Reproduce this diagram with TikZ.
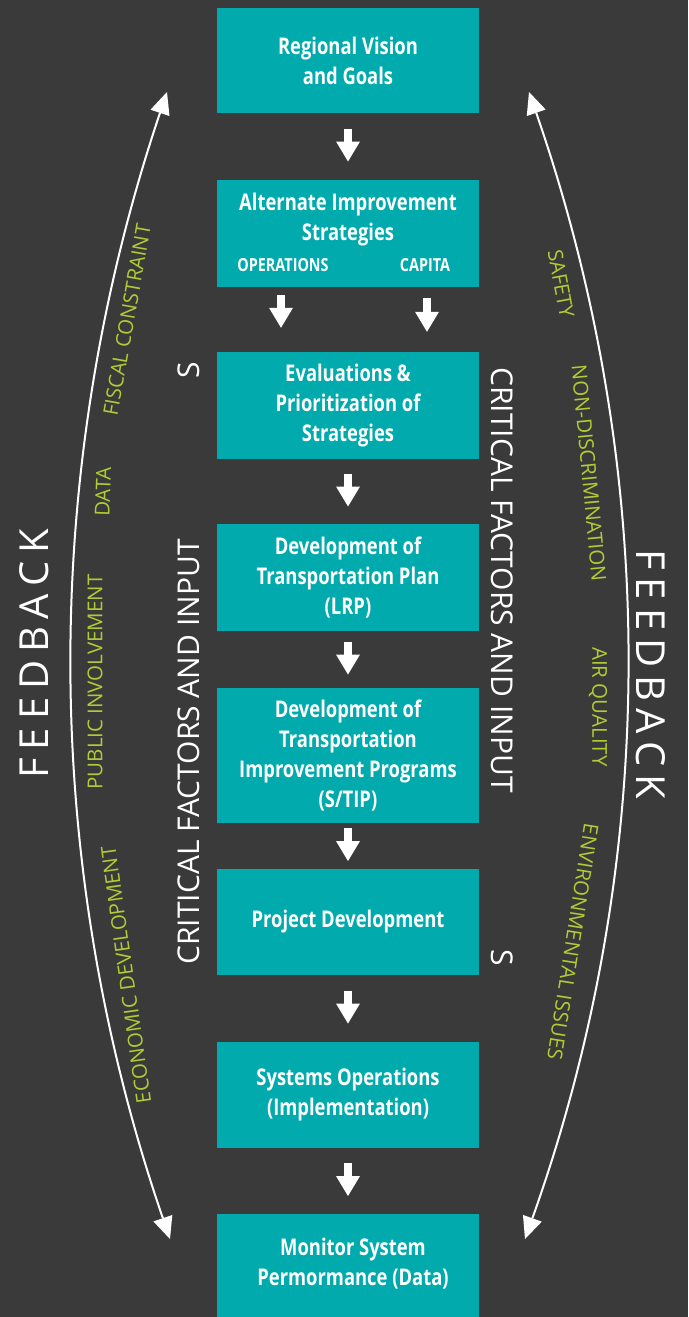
\documentclass[tikz,border=0pt]{standalone}
\usepackage{fontspec}
\setmainfont{Open Sans}
\newfontfamily\boxfont[FakeStretch=0.8]{Open Sans}
\newfontfamily\fbfont[LetterSpace=20]{Open Sans}
\usetikzlibrary{arrows.meta,calc}
\definecolor{bgcol}{RGB}{58,58,58}
\definecolor{tealbox}{RGB}{0,170,173}
\definecolor{lblgreen}{RGB}{176,204,52}
\begin{document}
\begin{tikzpicture}[x=1pt,y=-1pt,
  stepbox/.style={fill=tealbox, minimum width=262pt, inner sep=0pt, text=white,
    font=\boxfont\bfseries\fontsize{23}{30}\selectfont, align=center},
  subtext/.style={text=white, font=\boxfont\bfseries\fontsize{18}{20}\selectfont, inner sep=0pt},
  blk/.style={draw=white, line width=8pt, -{Triangle[length=20pt,width=24pt,line width=0pt]}},
  fback/.style={draw=white, line width=2pt,
    {Triangle[length=22pt,width=20pt,line width=0pt]}-{Triangle[length=22pt,width=20pt,line width=0pt]}},
  crit/.style={text=white, font=\fontsize{30}{34}\selectfont, inner sep=0pt},
  fb/.style={text=white, font=\fbfont\fontsize{40}{44}\selectfont, inner sep=0pt},
  lbl/.style={text=lblgreen, font=\fontsize{20.5}{24}\selectfont, inner sep=0pt}
]
\fill[bgcol] (0,0) rectangle (688,1317);
\useasboundingbox (0,0) rectangle (688,1317);

% boxes
\node[stepbox, minimum height=105pt] (b1) at (348,60.5) {Regional Vision\\and Goals};
\node[stepbox, minimum height=107pt] (b2) at (348,233.5) {};
\node[stepbox, fill=none, minimum width=0pt] (b2t) at (348,220) {Alternate Improvement\\Strategies};
\node[subtext] (ops) at (283,265) {OPERATIONS};
\node[subtext] (cap) at (425,265) {CAPITA};
\node[stepbox, minimum height=107pt] (b3) at (348,405.5) {Evaluations \&\\Prioritization of\\Strategies};
\node[stepbox, minimum height=107pt] (b4) at (348,577.5) {Development of\\Transportation Plan\\(LRP)};
\node[stepbox, minimum height=135pt] (b5) at (348,755.5) {Development of\\Transportation\\Improvement Programs\\(S/TIP)};
\node[stepbox, minimum height=106pt] (b6) at (348,922) {Project Development};
\node[stepbox, minimum height=106pt] (b7) at (348,1095) {Systems Operations\\(Implementation)};
\node[stepbox, minimum height=103pt] (b8) at (348,1265.5) {};
\node[stepbox, fill=none, minimum width=0pt] (b8t) at (353,1264) {Monitor System\\Permormance (Data)};

% block arrows
\foreach \a/\b in {b1/b2,b3/b4,b4/b5,b5/b6,b6/b7,b7/b8}
  \draw[blk] ($(\a.south)!.5!(\b.north)+(0,-18)$) -- ($(\a.south)!.5!(\b.north)+(0,15)$);
\draw[blk] ([xshift=-67pt,yshift=-8pt]b2.south) -- ([xshift=-67pt,yshift=24pt]b3.north);
\draw[blk] ([xshift=79pt,yshift=-11pt]b2.south) -- ([xshift=79pt,yshift=20pt]b3.north);

% feedback arcs
\coordinate (lt) at (167,92);
\coordinate (lb) at (170,1239);
\coordinate (rt) at (529,92);
\coordinate (rb) at (525,1239);
\draw[fback] (lt) .. controls (40,470) and (40,860) .. (lb);
\draw[fback] (rt) .. controls (660,470) and (660,860) .. (rb);

% critical factors texts
\node[crit, rotate=90] (critL) at (189,752) {CRITICAL FACTORS AND INPUT};
\node[crit, rotate=90] (sL) at (189,370) {S};
\node[crit, rotate=-90] (critR) at (502,580) {CRITICAL FACTORS AND INPUT};
\node[crit, rotate=-90] (sR) at (502,958) {S};

% feedback texts
\node[fb, rotate=90] (fbL) at (34,654) {FEEDBACK};
\node[fb, rotate=-90] (fbR) at (651,674) {FEEDBACK};

% green labels
\node[lbl, rotate=80] (l1) at (127,320) {FISCAL CONSTRAINT};
\node[lbl, rotate=88] (l2) at (103,492) {DATA};
\node[lbl, rotate=90] (l3) at (95,682) {PUBLIC INVOLVEMENT};
\node[lbl, rotate=98] (l4) at (126,975) {ECONOMIC DEVELOPMENT};
\node[lbl, rotate=-79.5] (r1) at (561,284) {SAFETY};
\node[lbl, rotate=-84.6] (r2) at (589,473) {NON-DISCRIMINATION};
\node[lbl, rotate=-90] (r3) at (598,707) {AIR QUALITY};
\node[lbl, rotate=-99] (r4) at (573,942) {ENVIRONMENTAL ISSUES};
\end{tikzpicture}
\end{document}
